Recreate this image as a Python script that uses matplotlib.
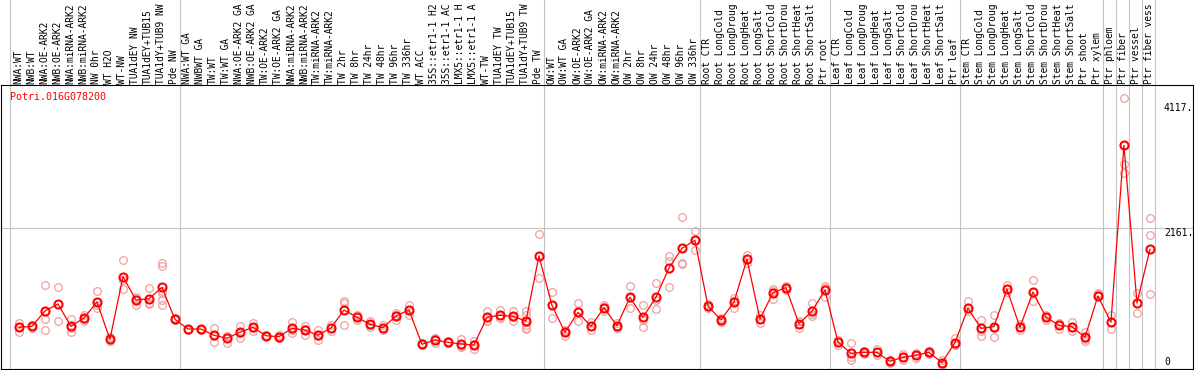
import matplotlib
matplotlib.use('Agg')
import matplotlib.pyplot as plt
import matplotlib.transforms as mtransforms

W, H = 1194, 370

gene = "Potri.016G078200"

# column labels as they show in the header strip (long names are cut there)
labels = [
    "NWA:WT", "NWB:WT", "NWA:OE-ARK2", "NWB:OE-ARK2", "NWA:miRNA-ARK2", "NWB:miRNA-ARK2",
    "NW 0hr", "WT H2O", "WT-NW", "TUA1dEY NW", "TUA1dEY+TUB15", "TUA1dY+TUB9 NW", "Pde NW",
    "NWA:WT GA", "NWBWT GA", "TW:WT", "TW:WT GA", "NWA:OE-ARK2 GA", "NWB:OE-ARK2 GA",
    "TW:OE-ARK2", "TW:OE-ARK2 GA", "NWA:miRNA-ARK2", "NWB:miRNA-ARK2", "TW:miRNA-ARK2",
    "TW:miRNA-ARK2", "TW 2hr", "TW 8hr", "TW 24hr", "TW 48hr", "TW 96hr", "TW 336hr",
    "WT ACC", "35S::etr1-1 H2", "35S::etr1-1 AC", "LMX5::etr1-1 H", "LMX5::etr1-1 A",
    "WT-TW", "TUA1dEY TW", "TUA1dEY+TUB15", "TUA1dY+TUB9 TW", "Pde TW",
    "OW:WT", "OW:WT GA", "OW:OE-ARK2", "OW:OE-ARK2 GA", "OW:miRNA-ARK2", "OW:miRNA-ARK2",
    "OW 2hr", "OW 8hr", "OW 24hr", "OW 48hr", "OW 96hr", "OW 336hr",
    "Root CTR", "Root LongCold", "Root LongDroug", "Root LongHeat", "Root LongSalt",
    "Root ShortCold", "Root ShortDrou", "Root ShortHeat", "Root ShortSalt", "Ptr root",
    "Leaf CTR", "Leaf LongCold", "Leaf LongDroug", "Leaf LongHeat", "Leaf LongSalt",
    "Leaf ShortCold", "Leaf ShortDrou", "Leaf ShortHeat", "Leaf ShortSalt", "Ptr leaf",
    "Stem CTR", "Stem LongCold", "Stem LongDroug", "Stem LongHeat", "Stem LongSalt",
    "Stem ShortCold", "Stem ShortDrou", "Stem ShortHeat", "Stem ShortSalt", "Ptr shoot",
    "Ptr xylem", "Ptr phloem", "Ptr fiber", "Ptr vessel", "Ptr fiber vess",
]

means = [
    620, 635, 874, 983, 635, 765, 1014, 433, 1408, 1045, 1065, 1243, 744,
    593, 593, 495, 449, 542, 620, 489, 473, 604, 578, 495, 609, 889, 776, 667,
    614, 796, 889, 355, 422, 386, 360, 344, 776, 807, 791, 718, 1730,
    962, 542, 853, 635, 925, 645, 1087, 776, 1087, 1543, 1850, 1975,
    952, 734, 1014, 1679, 749, 1159, 1237, 676, 869, 1201,
    391, 215, 230, 230, 90, 153, 184, 230, 69, 380,
    916, 604, 629, 1212, 620, 1170, 776, 651, 629, 464, 1107,
    698, 3454, 998, 1835,
]

reps = [
    [682, 551, 620], [609, 635, 656], [1274, 754, 578], [1243, 713], [754, 547, 609],
    [816, 723, 754], [1181, 962, 920], [402, 464, 433], [1663, 1212, 1352], [1096, 972, 1065],
    [1227, 983, 994], [1626, 1575, 1149, 1045, 962, 1190], [744, 730, 760],
    [593, 600, 585], [593, 585, 600], [604, 396, 484], [484, 380, 480], [640, 458, 531],
    [682, 567, 609], [489, 480, 498], [505, 453, 464], [702, 526, 582], [645, 500, 589],
    [582, 427, 480], [651, 567, 609], [1034, 1003, 651], [807, 734, 785], [723, 629, 651],
    [651, 578, 614], [838, 734, 816], [962, 816, 889], [371, 340, 355], [453, 380, 433],
    [402, 371, 386], [433, 318, 329], [402, 277, 355], [878, 723, 723], [889, 765, 765],
    [878, 723, 776], [878, 811, 614, 589, 698, 656], [2068, 1383, 1730],
    [1170, 760, 962], [484, 578, 542], [994, 713, 853], [702, 578, 635], [962, 878, 936],
    [682, 609, 645], [1258, 925, 1076], [962, 629, 734], [1305, 1040, 900],
    [1730, 1648, 1243], [2333, 1626, 1606], [2120, 1819, 1980],
    [983, 920, 952], [765, 702, 734], [1076, 920, 1029], [1751, 1621, 1679], [811, 691, 749],
    [1212, 1056, 1185], [1268, 1201, 1237], [713, 609, 676], [998, 796, 832], [1263, 1096, 1232],
    [422, 340, 396], [371, 111, 162], [230, 255, 204], [277, 184, 230], [90, 69, 111],
    [199, 106, 153], [224, 142, 184], [255, 209, 224], [111, 28, 69], [453, 344, 380],
    [1025, 874, 916], [734, 558, 484], [807, 473, 609], [1283, 1165, 1212], [667, 582, 620],
    [1352, 1025, 1165], [816, 734, 776], [691, 589, 651], [702, 558, 629], [551, 411, 433],
    [1159, 1134, 1107], [811, 589], [4186, 3163, 3028], [1149, 838], [2322, 2053, 1134],
]

group_bounds = [0, 13, 41, 53, 63, 73, 84, 85, 86, 87, 88]
ymark_max = 4117
ymark_mid = 2161

mono = 'DejaVu Sans Mono'
red = '#ff0000'
pale = '#f0a0a0'
grey = '#c4c4c4'

fig = plt.figure(figsize=(W / 100., H / 100.), dpi=100)
ax = fig.add_axes([1. / W, 1. / H, 1192. / W, 284. / H])
ax.set_xlim(-9.5 / 13., 1182.5 / 13.)
ax.set_ylim(-29.6, 4393)
ax.set_xticks([])
ax.set_yticks([])
for s in ax.spines.values():
    s.set_color('black')
    s.set_linewidth(0.8)

# grid lines, vertical ones run up through the label area
ax.axhline(ymark_mid, color=grey, lw=0.8, zorder=1)
for b in group_bounds:
    ax.axvline(b, ymin=0, ymax=1 + 85. / 284., color=grey, lw=0.8, clip_on=False, zorder=1)

xs = [i + 0.65 for i in range(len(means))]

for x, r in zip(xs, reps):
    ax.plot([x] * len(r), r, 'o', ms=5.5, mfc='none', mec=pale, mew=0.9, zorder=2)

ax.plot(xs, means, '-', color=red, lw=0.9, zorder=3)
ax.plot(xs, means, 'o', ms=5.8, mfc='none', mec=red, mew=1.5, zorder=4)

# column labels above the plot
trans = mtransforms.blended_transform_factory(ax.transData, ax.transAxes)
for x, lab in zip(xs, labels):
    ax.text(x - 0.05, 1 + 1.5 / 284., lab, rotation=90, ha='center', va='bottom',
            transform=trans, fontsize=6.9, family=mono, clip_on=False)

fig.text(10. / W, 1 - 92.5 / H, gene, ha='left', va='top', color=red,
         fontsize=7.2, family=mono)

ylab_x = (1164 - 10.5) / 13.
ax.text(ylab_x, ymark_max, "%d." % ymark_max, ha='left', va='top', fontsize=7, family=mono)
ax.text(ylab_x, ymark_mid, "%d." % ymark_mid, ha='left', va='top', fontsize=7, family=mono)
ax.text(ylab_x, 0, "0", ha='left', va='bottom', fontsize=7, family=mono)

fig.savefig('out.png', dpi=100)
